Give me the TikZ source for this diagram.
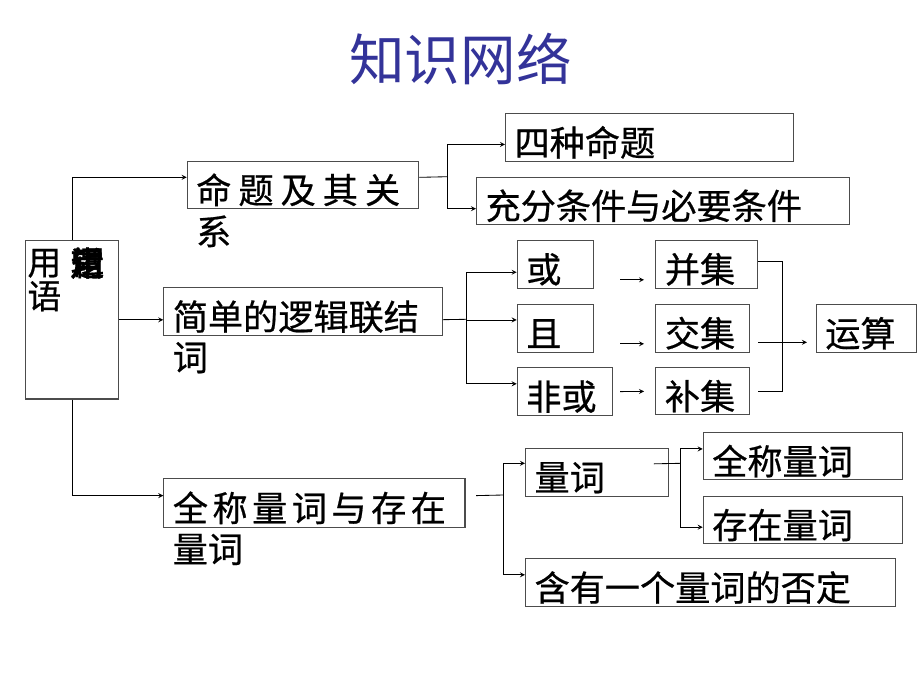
\documentclass[tikz,border=0pt]{standalone}
\usepackage{fontspec}
\newfontfamily\cjk[FakeBold=0.6]{Noto Sans CJK SC}
\newfontfamily\cjktitle{Noto Sans CJK SC}
\usetikzlibrary{arrows}
\tikzset{>=stealth}
\definecolor{titleblue}{RGB}{51,51,153}
\newcommand{\gap}{\hspace{5pt}}
\newcommand{\sgap}{\hspace{3.2pt}}

\begin{document}
\begin{tikzpicture}
	[x=0.025cm, y=-0.025cm, line width=0.6pt,
	box/.style={draw=black!70, line width=0.8pt, anchor=north west, inner xsep=0.225cm, inner ysep=0pt, text height=26pt, text depth=0pt, align=left, font=\cjk\fontsize{25}{28}\selectfont},
	spill/.style={anchor=north west, inner xsep=0.225cm, inner ysep=0pt, align=left, font=\cjk\fontsize{25}{28}\selectfont}]
	\useasboundingbox (0,0) rectangle (920,690);

	\node [font=\cjktitle\fontsize{39.5}{40}\selectfont, text=titleblue] (title) at (460.5,59) {知识网络};

	% left column
	\node [box, minimum width=2.32cm, minimum height=3.96cm] (term) at (25,240) {};
	\node [spill, inner xsep=1.5pt, font=\cjk\fontsize{24}{24}\selectfont] (termtxt) at ([yshift=-6pt]term.north west) {用\\语};
	\node [spill, inner xsep=0pt, font=\cjk\fontsize{24}{24}\selectfont] (termblob) at ([xshift=32pt, yshift=-5pt]term.north west) {\rlap{常}\rlap{用}\rlap{逻}辑};

	% first branch
	\node [box, text width=5.34cm, minimum height=1.19cm] (rel) at (186.7,160.7) {命\gap 题\gap 及\gap 其\gap 关};
	\node [spill] (relx) at ([yshift=-4pt]rel.south west) {系};
	\node [box, text width=6.74cm, minimum height=1.19cm] (four) at (505,113.3) {四种命题};
	\node [box, text width=8.88cm, minimum height=1.18cm] (suff) at (476,176.7) {充分条件与必要条件};

	% second branch
	\node [box, text width=6.51cm, minimum height=1.19cm] (logic) at (163.3,287.3) {简单的逻辑联结};
	\node [spill] (logicx) at ([yshift=-4pt]logic.south west) {词};
	\node [box, text width=1.45cm, minimum height=1.19cm] (or) at (516.7,240) {或};
	\node [box, text width=1.45cm, minimum height=1.19cm] (and) at (516.7,304) {且};
	\node [box, text width=1.94cm, minimum height=1.19cm] (nor) at (516.7,367.3) {非或};
	\node [box, text width=2.09cm, minimum height=1.19cm] (union) at (655.3,240) {并集};
	\node [box, text width=1.89cm, minimum height=1.19cm] (inter) at (655.3,304) {交集};
	\node [box, text width=1.89cm, minimum height=1.17cm] (comp) at (655.3,367.3) {补集};
	\node [box, text width=2.06cm, minimum height=1.19cm] (calc) at (815.7,304) {运算};

	% third branch
	\node [box, text width=7.075cm, minimum height=1.21cm] (quant) at (163.3,478.3) {全\sgap 称\sgap 量\sgap 词\sgap 与\sgap 存\sgap 在};
	\node [spill] (quantx) at ([yshift=-4pt]quant.south west) {量词};
	\node [box, text width=3.12cm, minimum height=1.2cm] (qw) at (525,447.7) {量词};
	\node [box, text width=4.525cm, minimum height=1.175cm] (univ) at (702.7,432.3) {全称量词};
	\node [box, text width=4.525cm, minimum height=1.18cm] (exist) at (702.7,496) {存在量词};
	\node [box, text width=8.8cm, minimum height=1.19cm] (neg) at (525,558.3) {含有一个量词的否定};

	% forks
	\coordinate (f1) at (447.7,176.7);
	\coordinate (f2) at (466,319.3);
	\coordinate (f3) at (503.3,495);
	\coordinate (f4) at (680.7,463.3);
	\coordinate (j) at (782.3,341.7);

	\draw[->] (term.north) |- ([yshift=5.5pt]rel.west);
	\draw[->] (term.east) -- (term.east -| logic.west);
	\draw[->] (term.south) |- ([yshift=5.3pt]quant.west);

	\draw ([yshift=5.5pt]rel.east) -- (f1);
	\draw[->] (f1) |- ([yshift=-4.8pt]four.west);
	\draw[->] (f1) |- ([yshift=-5.6pt]suff.west);

	\draw ([yshift=-5.7pt]logic.east) -- (f2);
	\draw[->] (f2) |- ([yshift=-5.6pt]or.west);
	\draw[->] (f2) |- ([yshift=6pt]and.west);
	\draw[->] (f2) |- ([yshift=5.6pt]nor.west);
	\draw[->, shorten <=18.7pt, shorten >=8pt] ([yshift=-11pt]or.east) -- ([yshift=-11pt]union.west);
	\draw[->, shorten <=18.7pt, shorten >=8pt] ([yshift=-11pt]and.east) -- ([yshift=-11pt]inter.west);
	\draw[->, shorten <=4.8pt, shorten >=8pt] (nor.east) -- (comp.west);
	\draw ([yshift=2pt]union.east) -| (j);
	\draw[shorten <=5.7pt] (comp.east) -| (j);
	\draw[->, shorten <=5.7pt, shorten >=6.2pt] ([yshift=-9.9pt]inter.east) -- ([yshift=-9.9pt]calc.west);

	\draw ([xshift=7.6pt, yshift=5.3pt]quant.east) -- (f3);
	\draw[->] (f3) |- ([yshift=6.4pt]qw.west);
	\draw[->] (f3) |- ([yshift=5.6pt]neg.west);
	\draw ([xshift=-10.7pt, yshift=6pt]qw.east) -- (f4);
	\draw[->] (f4) |- ([yshift=5.3pt]univ.west);
	\draw[->] (f4) |- ([yshift=-5pt]exist.west);
\end{tikzpicture}
\end{document}
